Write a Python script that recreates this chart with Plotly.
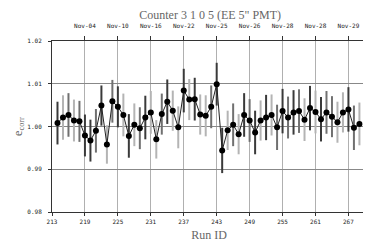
import plotly.graph_objects as go

run_ids = list(range(214, 270))
e_corr = [1.0008, 1.0021, 1.0027, 1.0014, 1.0012, 0.9979, 0.9967, 0.9990, 1.0049, 0.9958,
          1.0059, 1.0046, 1.0027, 0.9978, 1.0004, 0.9996, 1.0021, 1.0033, 0.9970, 1.0029,
          1.0058, 1.0037, 0.9998, 1.0084, 1.0063, 1.0064, 1.0028, 1.0025, 1.0046, 1.0099,
          0.9944, 0.9991, 1.0004, 0.9982, 1.0027, 1.0014, 0.9986, 1.0014, 1.0021, 1.0027,
          0.9998, 1.0036, 1.0021, 1.0033, 1.0036, 1.0016, 1.0043, 1.0034, 1.0017, 1.0033,
          1.0023, 1.0010, 1.0033, 1.0040, 0.9997, 1.0006]
e_err = [0.0050, 0.0052, 0.0051, 0.0049, 0.0048, 0.0049, 0.0049, 0.0051, 0.0047, 0.0045,
         0.0050, 0.0048, 0.0050, 0.0051, 0.0050, 0.0049, 0.0051, 0.0050, 0.0045, 0.0048,
         0.0052, 0.0047, 0.0049, 0.0051, 0.0048, 0.0050, 0.0047, 0.0048, 0.0050, 0.0050,
         0.0053, 0.0046, 0.0050, 0.0047, 0.0051, 0.0050, 0.0051, 0.0047, 0.0053, 0.0048,
         0.0053, 0.0052, 0.0049, 0.0052, 0.0051, 0.0050, 0.0052, 0.0050, 0.0052, 0.0050,
         0.0048, 0.0048, 0.0047, 0.0052, 0.0052, 0.0050]
tick_runs = [213, 219, 225, 231, 237, 243, 249, 255, 261, 267]
top_ticks = [219, 225, 231, 237, 243, 249, 255, 261, 267]
top_labels = ["Nov-04", "Nov-10", "Nov-16", "Nov-22", "Nov-25", "Nov-26", "Nov-28", "Nov-28", "Nov-29"]
y_ticks = [0.98, 0.99, 1.00, 1.01, 1.02]

# error-bar shade class per point (style)
shade = "dlmlmddmdlmdldlmdllmdlldldllmddlmldmdldlmdmdmldldmmlldml"
palette = {"d": "#3a3a3a", "m": "#707070", "l": "#b4b4b4"}

fig = go.Figure()
for key, col in palette.items():
    xs = [r for r, s in zip(run_ids, shade) if s == key]
    ys = [v for v, s in zip(e_corr, shade) if s == key]
    es = [e for e, s in zip(e_err, shade) if s == key]
    fig.add_trace(go.Scatter(
        x=xs, y=ys, mode="markers",
        marker=dict(size=1, color="rgba(0,0,0,0)"),
        error_y=dict(type="data", array=es, visible=True, color=col, thickness=2, width=0),
        hoverinfo="skip", showlegend=False))

fig.add_trace(go.Scatter(
    x=run_ids, y=e_corr, mode="lines+markers",
    line=dict(color="#222", width=1),
    marker=dict(size=6, color="black", symbol="circle"),
    showlegend=False))

# invisible trace on top axis
fig.add_trace(go.Scatter(x=run_ids, y=e_corr, xaxis="x2", mode="markers",
                         marker=dict(size=1, color="rgba(0,0,0,0)"),
                         hoverinfo="skip", showlegend=False))

tickfont = dict(family="DejaVu Sans Mono", size=6, color="#222")
fig.update_layout(
    width=371, height=241,
    margin=dict(l=43, r=9, t=33, b=32),
    paper_bgcolor="white", plot_bgcolor="white",
    title=dict(text='Counter 3 1 0 5 (EE 5" PMT)', x=0.545, xanchor="center", y=0.99, yanchor="top",
               font=dict(family="Liberation Serif", size=12, color="#666")),
    xaxis=dict(range=[213, 270.2], tickvals=tick_runs, ticktext=[str(t) for t in tick_runs],
               showgrid=True, gridcolor="#b0b0b0", gridwidth=1,
               showline=True, linecolor="#333", linewidth=1, mirror=False,
               ticks="outside", ticklen=3, tickcolor="#333", tickfont=tickfont,
               ticklabelstandoff=1, zeroline=False,
               title=dict(text="Run ID", standoff=6,
                          font=dict(family="Liberation Serif", size=12, color="#666"))),
    xaxis2=dict(range=[213, 270.2], overlaying="x", side="top", tickvals=top_ticks,
                ticktext=top_labels, showgrid=False, showline=True, linecolor="#333",
                linewidth=1, ticks="outside", ticklen=4, tickcolor="#333", tickfont=tickfont,
                ticklabelstandoff=6, zeroline=False),
    yaxis=dict(range=[0.98, 1.02], tickvals=y_ticks, ticktext=[f"{v:.2f}" for v in y_ticks],
               showgrid=True, gridcolor="#888", gridwidth=1,
               showline=True, linecolor="#333", linewidth=1, mirror="ticks",
               ticks="outside", ticklen=3, tickcolor="#333", tickfont=tickfont,
               ticklabelstandoff=5, zeroline=False,
               title=dict(text="e<sub>corr</sub>", standoff=2,
                          font=dict(family="Liberation Serif", size=12, color="#666"))),
)

fig.write_html("out.html")
